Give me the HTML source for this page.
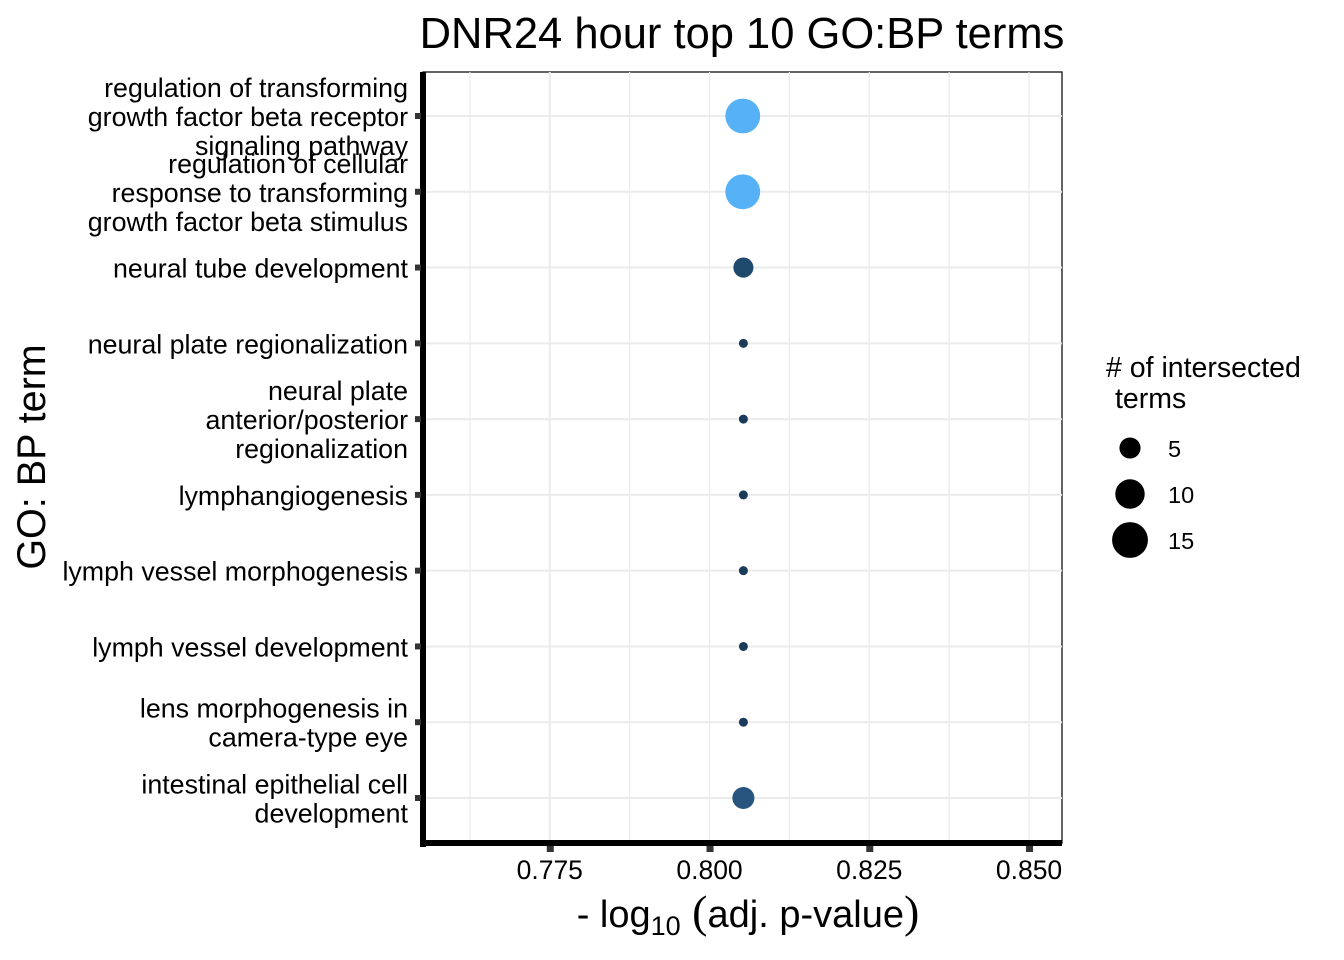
<!DOCTYPE html>
<html><head><meta charset="utf-8"><style>
body{margin:0;background:#fff}
svg{display:block;font-family:"Liberation Sans",Arial,sans-serif}
</style></head><body>
<svg id="chart" width="1344" height="960" xmlns="http://www.w3.org/2000/svg">
<text x="742" y="48" font-size="43.5" text-anchor="middle">DNR24 hour top 10 GO:BP terms</text>
<g id="grid"></g>
<g id="ylabels"></g>
<g id="xlabels"></g>
<g id="points"></g>
<text transform="translate(45,457) rotate(-90)" font-size="39.5" text-anchor="middle">GO: BP term</text>
<text x="748" y="927" font-size="38" text-anchor="middle">- log<tspan font-size="27" dy="8">10</tspan><tspan dy="-8" font-family="Liberation Serif,serif" font-size="46"> (</tspan>adj. p-value<tspan font-family="Liberation Serif,serif" font-size="46">)</tspan></text>
<g>
<text x="1106" y="377" font-size="28.5">#&#160;of intersected</text>
<text x="1115" y="408" font-size="28.5">terms</text>
<g id="legend"></g>
</g>
</svg>
<script>
const terms = ["regulation of transforming|growth factor beta receptor|signaling pathway","regulation of cellular|response to transforming|growth factor beta stimulus","neural tube development","neural plate regionalization","neural plate|anterior/posterior|regionalization","lymphangiogenesis","lymph vessel morphogenesis","lymph vessel development","lens morphogenesis in|camera-type eye","intestinal epithelial cell|development"];
const pvals = [0.8052,0.8052,0.8053,0.8053,0.8053,0.8053,0.8053,0.8053,0.8053,0.8053];
const counts = [15,15,5,1,1,1,1,1,1,6];
const colors = ["#56B1F7","#56B1F7","#1F4A6E","#1A3A5A","#1A3A5A","#1A3A5A","#1A3A5A","#1A3A5A","#1A3A5A","#27557F"];
const xTicks = [0.775,0.800,0.825,0.850];
const xTickLabels = ["0.775","0.800","0.825","0.850"];
const legendVals = [5,10,15];

const NS="http://www.w3.org/2000/svg";
const L=423,R=1062,T=72,B=843;
const xMin=0.75516,xMax=0.85516;
const xs=v=>L+(v-xMin)/(xMax-xMin)*(R-L);
const ys=i=>116+i*(798-116)/(terms.length-1);
const rs=n=>4.5*Math.sqrt(n);
function mk(tag,a,p){const e=document.createElementNS(NS,tag);for(const k in a)e.setAttribute(k,a[k]);p.appendChild(e);return e;}
const grid=document.getElementById('grid');
mk('rect',{x:L,y:T,width:R-L,height:B-T,fill:'#fff',stroke:'#222','stroke-width':1.4},grid);
const step=xTicks[1]-xTicks[0];
for(let v=xTicks[0]-step/2; v<=xMax; v+=step/2){
  const l=mk('line',{x1:xs(v),x2:xs(v),y1:T,y2:B,stroke:'#ebebeb','stroke-width':Math.abs(((v-xTicks[0])/step)%1)<1e-6?2:1.2},grid);
  
  
}
terms.forEach((t,i)=>{const l=mk('line',{x1:L,x2:R,y1:ys(i),y2:ys(i),stroke:'#ebebeb','stroke-width':2},grid);
  
  });
mk('line',{x1:L,x2:L,y1:T,y2:B+4,stroke:'#000','stroke-width':6},grid);
mk('line',{x1:L-2,x2:R,y1:B,y2:B,stroke:'#000','stroke-width':6},grid);
const yl=document.getElementById('ylabels');
terms.forEach((t,i)=>{
  const lines=t.split('|');const y=ys(i);
  mk('rect',{x:415,y:y-3,width:6,height:6,fill:'#333'},yl);
  const tx=mk('text',{x:408,y:y+10-(lines.length-1)*14.5,'font-size':26.8,'text-anchor':'end'},yl);
  
  
  lines.forEach((s,j)=>{const ts=mk('tspan',{x:408,dy:j?29:0},tx);ts.textContent=s;});
});
const xl=document.getElementById('xlabels');
xTicks.forEach((v,i)=>{
  mk('rect',{x:xs(v)-3,y:846,width:7,height:6,fill:'#333'},xl);
  const tx=mk('text',{x:xs(v),y:879,'font-size':26.5,'text-anchor':'middle','fill':'#000'},xl);
  
  
  tx.textContent=xTickLabels[i];
});
const pts=document.getElementById('points');
pvals.forEach((v,i)=>{
  const c=mk('circle',{cx:xs(v),cy:ys(i),r:rs(counts[i]),fill:colors[i]},pts);
  
  
});
const lg=document.getElementById('legend');
legendVals.forEach((n,i)=>{
  const y=448+i*46;
  const c=mk('circle',{cx:1130,cy:y,r:rs(n)+0.5,fill:'#000'},lg);
  
  
  const t=mk('text',{x:1168,y:y+9,'font-size':23.5},lg);
  
  
  t.textContent=n;
});
</script>
</body></html>
